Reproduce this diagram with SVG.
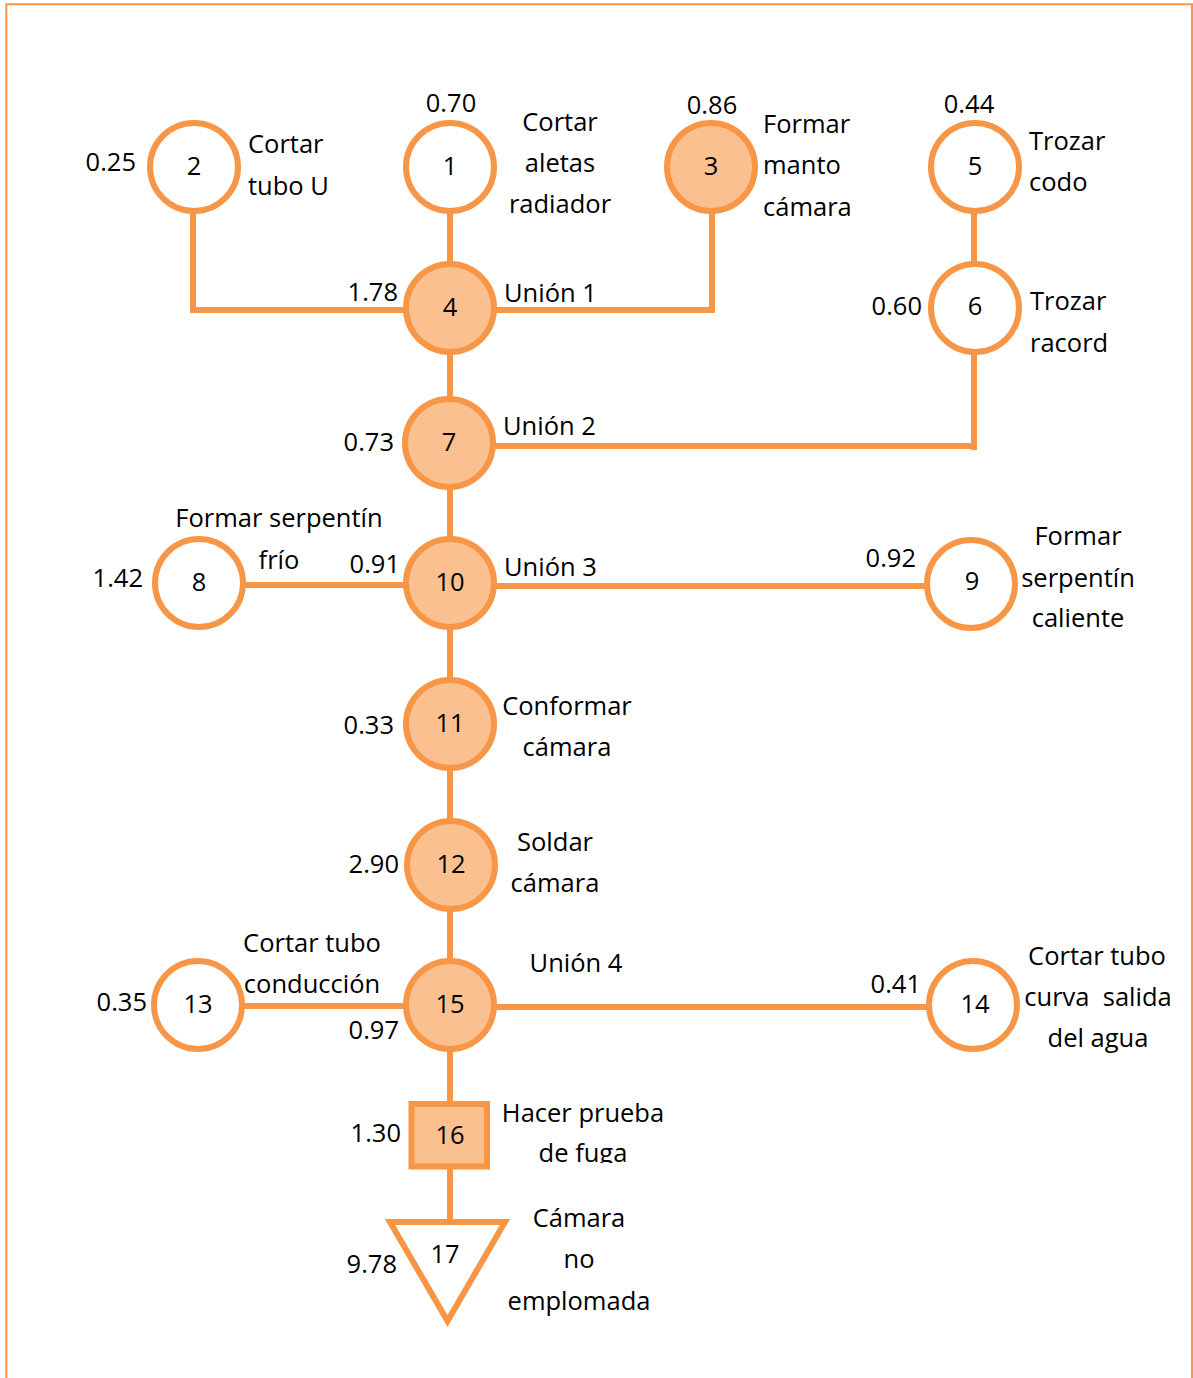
<svg xmlns="http://www.w3.org/2000/svg" width="1193" height="1378" viewBox="0 0 1193 1378">
  <style>
    text { font-family: "Open Sans", "Noto Sans", "DejaVu Sans", sans-serif; font-size: 25.5px; fill: #000; white-space: pre; }
    .c { text-anchor: middle; }
    .r { text-anchor: end; }
    .op { fill: #FFFFFF; stroke: #F79646; stroke-width: 6; }
    .opf { fill: #FAC090; stroke: #F79646; stroke-width: 6; }
    .ln { fill: none; stroke: #F79646; stroke-width: 6; stroke-linejoin: miter; }
  </style>
  <defs>
    <clipPath id="clip16">
      <rect x="490" y="1090" width="200" height="73"/>
    </clipPath>
  </defs>

  <rect id="frame" x="6.3" y="4.3" width="1185.7" height="1420" fill="#FFFFFF" stroke="#F79646" stroke-width="2"/>

  <g id="connectors">
    <polyline class="ln" points="193,212 193,310 450,310"/>
    <polyline class="ln" points="450,310 712,310 712,167"/>
    <line class="ln" x1="450" y1="167" x2="450" y2="1222"/>
    <line class="ln" x1="974" y1="167" x2="974" y2="308"/>
    <line class="ln" x1="974" y1="308" x2="974" y2="450"/>
    <line class="ln" x1="450" y1="446" x2="977" y2="446"/>
    <line class="ln" x1="199" y1="585" x2="450" y2="585"/>
    <line class="ln" x1="450" y1="586" x2="971" y2="586"/>
    <line class="ln" x1="198" y1="1006" x2="450" y2="1006"/>
    <line class="ln" x1="450" y1="1007" x2="973" y2="1007"/>
  </g>

  <g id="node-2">
    <circle class="op" cx="194" cy="167" r="44"/>
    <text class="c" x="194" y="175">2</text>
    <text class="r" x="136" y="171">0.25</text>
    <text x="248" y="153">Cortar</text>
    <text x="248" y="195">tubo U</text>
  </g>

  <g id="node-1">
    <circle class="op" cx="450" cy="167" r="44"/>
    <text class="c" x="450" y="175">1</text>
    <text class="c" x="451" y="112">0.70</text>
    <text class="c" x="560" y="131">Cortar</text>
    <text class="c" x="560" y="172">aletas</text>
    <text class="c" x="560" y="213">radiador</text>
  </g>

  <g id="node-3">
    <circle class="opf" cx="711" cy="167" r="44"/>
    <text class="c" x="711" y="175">3</text>
    <text class="c" x="712" y="114">0.86</text>
    <text x="763" y="133">Formar</text>
    <text x="763" y="174">manto</text>
    <text x="763" y="216">cámara</text>
  </g>

  <g id="node-5">
    <circle class="op" cx="975" cy="167" r="44"/>
    <text class="c" x="975" y="175">5</text>
    <text class="c" x="969" y="113">0.44</text>
    <text x="1029" y="150">Trozar</text>
    <text x="1029" y="191">codo</text>
  </g>

  <g id="node-4">
    <circle class="opf" cx="450" cy="308" r="44"/>
    <text class="c" x="450" y="316">4</text>
    <text class="r" x="398" y="301">1.78</text>
    <text x="504" y="302">Unión 1</text>
  </g>

  <g id="node-6">
    <circle class="op" cx="975" cy="308" r="44"/>
    <text class="c" x="975" y="315">6</text>
    <text class="r" x="922" y="315">0.60</text>
    <text x="1030" y="310">Trozar</text>
    <text x="1030" y="352">racord</text>
  </g>

  <g id="node-7">
    <circle class="opf" cx="449" cy="443" r="44"/>
    <text class="c" x="449" y="451">7</text>
    <text class="r" x="394" y="451">0.73</text>
    <text x="503" y="435">Unión 2</text>
  </g>

  <g id="node-8">
    <circle class="op" cx="199" cy="583" r="44"/>
    <text class="c" x="199" y="591">8</text>
    <text class="r" x="143" y="587">1.42</text>
    <text class="c" x="279" y="527">Formar serpentín</text>
    <text class="c" x="279" y="569">frío</text>
  </g>

  <g id="node-10">
    <circle class="opf" cx="450" cy="583" r="44"/>
    <text class="c" x="450" y="591">10</text>
    <text class="r" x="400" y="573">0.91</text>
    <text x="504" y="576">Unión 3</text>
  </g>

  <g id="node-9">
    <circle class="op" cx="971" cy="584" r="44"/>
    <text class="c" x="972" y="590">9</text>
    <text class="r" x="916" y="567">0.92</text>
    <text class="c" x="1078" y="545">Formar</text>
    <text class="c" x="1078" y="587">serpentín</text>
    <text class="c" x="1078" y="627">caliente</text>
  </g>

  <g id="node-11">
    <circle class="opf" cx="450" cy="724" r="44"/>
    <text class="c" x="450" y="732">11</text>
    <text class="r" x="394" y="734">0.33</text>
    <text class="c" x="567" y="715">Conformar</text>
    <text class="c" x="567" y="756">cámara</text>
  </g>

  <g id="node-12">
    <circle class="opf" cx="451" cy="865" r="44"/>
    <text class="c" x="451" y="873">12</text>
    <text class="r" x="399" y="873">2.90</text>
    <text class="c" x="555" y="851">Soldar</text>
    <text class="c" x="555" y="892">cámara</text>
  </g>

  <g id="node-13">
    <circle class="op" cx="198" cy="1005" r="44"/>
    <text class="c" x="198" y="1013">13</text>
    <text class="r" x="147" y="1011">0.35</text>
    <text class="c" x="312" y="952">Cortar tubo</text>
    <text class="c" x="312" y="993">conducción</text>
  </g>

  <g id="node-15">
    <circle class="opf" cx="450" cy="1005" r="44"/>
    <text class="c" x="450" y="1013">15</text>
    <text class="r" x="399" y="1039">0.97</text>
    <text class="c" x="576" y="972">Unión 4</text>
  </g>

  <g id="node-14">
    <circle class="op" cx="973" cy="1005" r="44"/>
    <text class="c" x="975" y="1013">14</text>
    <text class="r" x="921" y="993">0.41</text>
    <text class="c" x="1097" y="965">Cortar tubo</text>
    <text class="c" x="1098" y="1006">curva  salida</text>
    <text class="c" x="1098" y="1047">del agua</text>
  </g>

  <g id="node-16">
    <rect class="opf" x="411.5" y="1104" width="75.5" height="62.5"/>
    <text class="c" x="450" y="1144">16</text>
    <text class="r" x="401" y="1142">1.30</text>
    <g clip-path="url(#clip16)">
      <text class="c" x="583" y="1122">Hacer prueba</text>
      <text class="c" x="583" y="1162">de fuga</text>
    </g>
  </g>

  <g id="node-17">
    <polygon class="op" points="390,1222 505,1222 447.5,1321"/>
    <text class="c" x="445" y="1263">17</text>
    <text class="r" x="397" y="1273">9.78</text>
    <text class="c" x="579" y="1227">Cámara</text>
    <text class="c" x="579" y="1268">no</text>
    <text class="c" x="579" y="1310">emplomada</text>
  </g>
</svg>
